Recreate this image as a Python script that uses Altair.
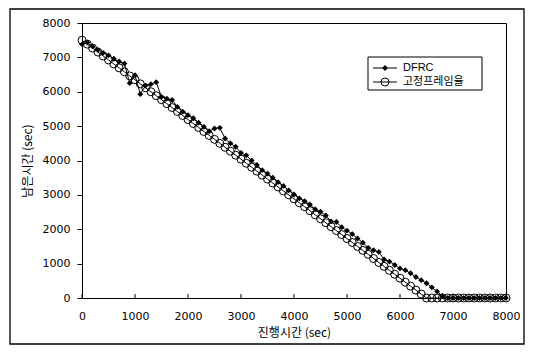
import altair as alt
import pandas as pd

# elapsed time (sec), sampled every 100 s
elapsed = list(range(0, 8001, 100))

series_names = ["DFRC", "고정프레임율"]

dfrc = [7380, 7430, 7320, 7220, 7130, 7060, 6960, 6880, 6820, 6250,
        6480, 5930, 6180, 6220, 6280, 5850, 5800, 5760, 5560, 5420,
        5320, 5230, 5100, 4980, 4850, 4930, 4950, 4640, 4500, 4400,
        4220, 4150, 4000, 3870, 3720, 3620, 3500, 3370, 3260, 3130,
        3010, 2900, 2820, 2720, 2580, 2510, 2400, 2230, 2210, 2060,
        1960, 1860, 1730, 1610, 1460, 1390, 1340, 1120, 1060, 960,
        860, 810, 720, 610, 520, 430, 310, 190, 60, 0,
        0, 0, 0, 0, 0, 0, 0, 0, 0, 0, 0]

fixed = [7500, 7385, 7270, 7155, 7040, 6925, 6810, 6695, 6580, 6460,
         6350, 6230, 6115, 6000, 5885, 5770, 5655, 5540, 5425, 5310,
         5190, 5075, 4960, 4845, 4730, 4615, 4500, 4385, 4270, 4155,
         4040, 3920, 3805, 3690, 3575, 3460, 3345, 3230, 3115, 3000,
         2885, 2770, 2655, 2540, 2420, 2305, 2190, 2075, 1960, 1845,
         1730, 1615, 1500, 1385, 1270, 1150, 1035, 920, 805, 690,
         575, 460, 345, 230, 115, 0,
         0, 0, 0, 0, 0, 0, 0, 0, 0, 0, 0, 0, 0, 0, 0]

tick_values = [0, 1000, 2000, 3000, 4000, 5000, 6000, 7000, 8000]

df = pd.DataFrame({"t": elapsed, "dfrc": dfrc, "fixed": fixed})
ticks_df = pd.DataFrame({"t": tick_values})

W, H = 424, 275
KFONT = "Noto Sans CJK KR"
NFONT = "DejaVu Sans"

xs = alt.Scale(domain=[0, 8000], nice=False)
ys = alt.Scale(domain=[0, 8000], nice=False)

xaxis = alt.Axis(values=tick_values, format="d", ticks=False, labelPadding=12, grid=False,
                 title="진행시간 (sec)", domainColor="black", labelFont=NFONT,
                 labelFontSize=11, labelColor="black", titleFont=KFONT,
                 titleFontSize=12, titleColor="black", titlePadding=6,
                 titleFontWeight="normal", labelFlush=False, labelOverlap=False)
yaxis = alt.Axis(values=tick_values, format="d", tickSize=5, tickColor="black", labelPadding=7,
                 grid=False, title="남은시간 (sec)", domainColor="black",
                 labelFont=NFONT, labelFontSize=11, labelColor="black",
                 titleFont=KFONT, titleFontSize=12, titleColor="black",
                 titlePadding=8, titleFontWeight="normal", labelOverlap=False,
                 labelFlush=False)

base = alt.Chart(df)

dfrc_line = base.mark_line(color="black", strokeWidth=1).encode(
    x=alt.X("t:Q", scale=xs, axis=xaxis),
    y=alt.Y("dfrc:Q", scale=ys, axis=yaxis),
)
dfrc_pts = base.mark_point(shape="diamond", filled=True, color="black", size=34, opacity=1).encode(
    x=alt.X("t:Q", scale=xs, axis=xaxis), y=alt.Y("dfrc:Q", scale=ys, axis=yaxis)
)
fixed_line = base.mark_line(color="black", strokeWidth=1).encode(
    x=alt.X("t:Q", scale=xs, axis=xaxis), y=alt.Y("fixed:Q", scale=ys, axis=yaxis)
)
fixed_pts = base.mark_point(shape="circle", filled=False, color="black", size=64,
                            strokeWidth=1, opacity=1).encode(
    x=alt.X("t:Q", scale=xs, axis=xaxis), y=alt.Y("fixed:Q", scale=ys, axis=yaxis)
)

xticks = alt.Chart(ticks_df).mark_rule(color="black", strokeWidth=1).encode(
    x=alt.X("t:Q", scale=xs, axis=xaxis), y=alt.value(H), y2=alt.value(H - 4)
)

one = alt.Data(values=[{}])
frame = alt.Chart(one).mark_rect(fill="transparent", stroke="black", strokeWidth=1.3).encode(
    x=alt.value(-72), x2=alt.value(442), y=alt.value(-14), y2=alt.value(321)
)

# legend
leg_box = alt.Chart(one).mark_rect(fill="white", stroke="black", strokeWidth=1).encode(
    x=alt.value(286), x2=alt.value(400), y=alt.value(34), y2=alt.value(67)
)
leg_l1 = alt.Chart(one).mark_rule(color="black", strokeWidth=1).encode(
    x=alt.value(291), x2=alt.value(315), y=alt.value(45)
)
leg_p1 = alt.Chart(one).mark_point(shape="diamond", filled=True, color="black", size=34, opacity=1).encode(
    x=alt.value(303), y=alt.value(45)
)
leg_t1 = alt.Chart(one).mark_text(text=series_names[0], align="left", baseline="middle",
                                  font="Liberation Sans", fontSize=11, color="black").encode(
    x=alt.value(321), y=alt.value(45)
)
leg_l2 = alt.Chart(one).mark_rule(color="black", strokeWidth=1).encode(
    x=alt.value(291), x2=alt.value(315), y=alt.value(59)
)
leg_p2 = alt.Chart(one).mark_point(shape="circle", filled=False, color="black", size=64,
                                   strokeWidth=1, opacity=1).encode(
    x=alt.value(303), y=alt.value(59)
)
leg_t2 = alt.Chart(one).mark_text(text=series_names[1], align="left", baseline="middle",
                                  font=KFONT, fontSize=11, color="black").encode(
    x=alt.value(321), y=alt.value(59)
)

chart = alt.layer(
    frame, dfrc_line, fixed_line, dfrc_pts, fixed_pts, xticks,
    leg_box, leg_l1, leg_p1, leg_t1, leg_l2, leg_p2, leg_t2,
).properties(
    width=W, height=H,
    autosize=alt.AutoSizeParams(type="none"),
    padding={"left": 74, "top": 15, "right": 19, "bottom": 47},
    background="white",
).configure_view(stroke="black", strokeWidth=1)

chart.save("out.html", embed_options={"renderer": "svg", "actions": False})
